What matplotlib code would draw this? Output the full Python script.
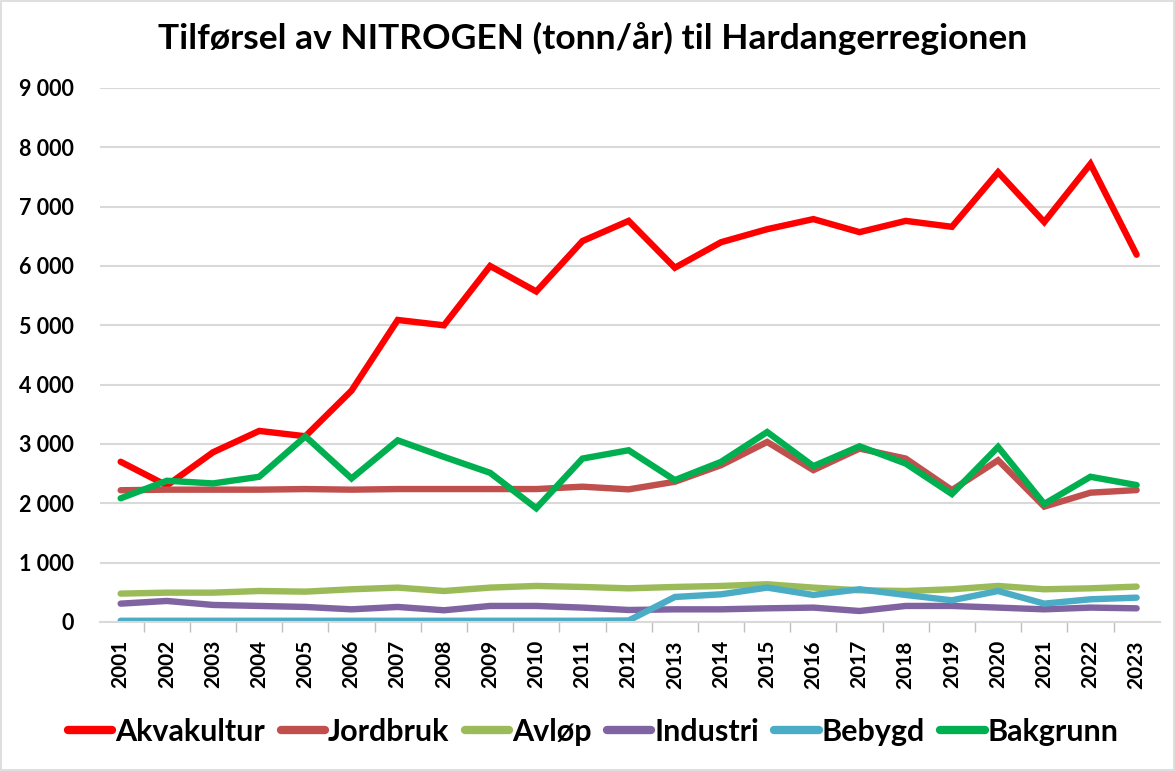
import matplotlib
matplotlib.use("Agg")
import matplotlib.pyplot as plt
from matplotlib.ticker import FuncFormatter, FixedLocator
from matplotlib.patches import Rectangle

years = list(range(2001, 2024))
akvakultur = [2700, 2300, 2860, 3220, 3130, 3900, 5090, 5000, 6000, 5570, 6420, 6760,
              5970, 6400, 6620, 6790, 6570, 6760, 6660, 7580, 6740, 7720, 6190]
jordbruk = [2220, 2230, 2230, 2230, 2240, 2230, 2240, 2240, 2240, 2240, 2280, 2235,
            2363, 2642, 3034, 2559, 2922, 2754, 2223, 2726, 1944, 2179, 2223]
avlop = [478, 494, 494, 522, 511, 551, 579, 522, 579, 607, 590, 567,
         590, 607, 635, 579, 534, 522, 551, 607, 551, 567, 596]
industri = [309, 354, 287, 270, 253, 213, 253, 197, 270, 270, 242, 202,
            213, 213, 230, 242, 185, 270, 270, 242, 213, 242, 230]
bebygd = [20, 20, 20, 20, 20, 20, 20, 20, 20, 20, 20, 25,
          421, 466, 579, 455, 551, 455, 365, 522, 309, 382, 410]
bakgrunn = [2084, 2380, 2335, 2447, 3128, 2419, 3061, 2782, 2514, 1916, 2754, 2894,
            2391, 2698, 3201, 2626, 2961, 2670, 2156, 2950, 1989, 2447, 2307]

series = [
    ("Akvakultur", akvakultur, "#FF0000"),
    ("Jordbruk", jordbruk, "#C0504D"),
    ("Avløp", avlop, "#9BBB59"),
    ("Industri", industri, "#8064A2"),
    ("Bebygd", bebygd, "#4BACC6"),
    ("Bakgrunn", bakgrunn, "#00B050"),
]
yticks = list(range(0, 10000, 1000))
title = "Tilførsel av NITROGEN (tonn/år) til Hardangerregionen"

plt.rcParams['font.family'] = ['Lato', 'DejaVu Sans']
plt.rcParams['font.weight'] = 'bold'

fig = plt.figure(figsize=(11.75, 7.71), dpi=100)
ax = fig.add_axes([0.085, 0.1933, 0.902, 0.6926])

for name, vals, col in series:
    ax.plot(years, vals, color=col, lw=4.6, label=name, solid_joinstyle='miter',
            solid_capstyle='round')

ax.set_ylim(0, 9000)
ax.set_xlim(2000.55, 2023.5)
ax.set_yticks(yticks)
ax.yaxis.set_major_formatter(FuncFormatter(lambda v, p: f"{int(v):,}".replace(",", " ")))
ax.set_xticks(years)
ax.set_xticklabels([str(y) for y in years], rotation=90)
ax.xaxis.set_minor_locator(FixedLocator([y + 0.5 for y in years[:-1]]))
ax.tick_params(axis='x', which='major', length=0, pad=13, labelsize=15)
ax.tick_params(axis='x', which='minor', length=7, color='#BFBFBF', width=1)
ax.tick_params(axis='y', length=0, pad=19, labelsize=15.5)
for lab in ax.get_xticklabels() + ax.get_yticklabels():
    lab.set_fontweight('bold')

ax.grid(axis='y', color='#D9D9D9', lw=1.5)
ax.set_axisbelow(True)
for s in ['top', 'right', 'left']:
    ax.spines[s].set_visible(False)
ax.spines['bottom'].set_color('#D9D9D9')
ax.spines['bottom'].set_linewidth(1.5)

fig.text(0.504, 0.950, title, ha='center', va='center', fontsize=25.5, fontweight='bold')

leg = fig.legend(loc='center', bbox_to_anchor=(0.505, 0.0506), ncol=6, frameon=False,
                 handlelength=1.45, handletextpad=0.1, columnspacing=0.5,
                 prop={'weight': 'bold', 'size': 22})
for h in leg.get_lines():
    h.set_linewidth(6)

fig.patches.append(Rectangle((0.001, 0.001), 0.998, 0.998, transform=fig.transFigure,
                             fill=False, edgecolor='#D9D9D9', lw=1.2))

fig.savefig("out.png", dpi=100)
